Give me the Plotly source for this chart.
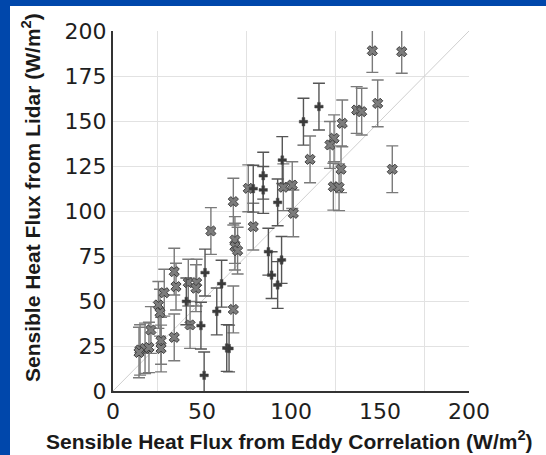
import plotly.graph_objects as go

# ---- data ----
x_cross_marks = [145.7, 162.2, 136.9, 139.7, 148.7, 128.8, 124.2, 121.9, 110.7, 128.1,
                 123.8, 127.0, 156.9, 101.3, 95.7, 100.7, 76.0, 67.6, 78.8, 68.5,
                 68.5, 70.0, 55.0, 34.4, 35.4, 28.8, 25.5, 26.4, 42.3, 47.0,
                 46.6, 67.6, 43.3, 21.3, 34.4, 27.0, 27.0, 15.2, 18.0, 20.2, 14.6]
y_cross_marks = [189.0, 188.5, 156.1, 155.2, 159.8, 148.7, 140.4, 136.7, 128.7, 123.2,
                 113.5, 113.2, 123.2, 98.7, 113.2, 114.4, 112.6, 105.2, 91.3, 83.9,
                 80.2, 78.0, 88.9, 66.3, 58.0, 54.6, 47.8, 43.5, 60.2, 60.2,
                 57.1, 45.3, 36.7, 33.9, 29.8, 27.9, 23.6, 22.8, 23.7, 24.2, 21.4]
err_cross_marks = [12, 12, 13, 13, 13, 13, 13, 13, 13, 13,
                   13, 13, 13, 13, 13, 13, 13, 13, 13, 13,
                   13, 13, 13, 13, 13, 13, 13, 13, 13, 13,
                   13, 13, 13, 13, 13, 13, 13, 14, 14, 14, 14]

x_plus_marks = [115.7, 107.0, 95.1, 92.5, 84.4, 84.4, 78.8, 87.3, 89.1, 94.7,
                92.5, 51.7, 61.0, 41.2, 58.3, 49.4, 63.9, 65.2, 51.2]
y_plus_marks = [158.0, 149.6, 128.3, 104.8, 119.6, 111.7, 112.4, 77.4, 64.4, 72.8,
                58.9, 65.8, 59.6, 49.8, 44.2, 36.3, 23.9, 23.6, 8.7]
err_plus_marks = [13, 13, 13, 13, 13, 13, 13, 13, 13, 13,
                  13, 13, 13, 13, 13, 13, 13, 13, 13]

one_to_one = [0, 200]

x_tick_vals = [0, 50, 100, 150, 200]
x_grid_vals = [25, 75, 125, 175, 200]
y_tick_vals = [0, 25, 50, 75, 100, 125, 150, 175, 200]

x_title = "Sensible Heat Flux from Eddy Correlation (W/m<sup>2</sup>)"
y_title = "Sensible Heat Flux from Lidar (W/m<sup>2</sup>)"

# ---- figure ----
W, H = 546, 455
ML, MR, MT, MB = 113, 77, 31, 64
PW, PH = W - ML - MR, H - MT - MB

def px_x(p):
    return (p - ML) / PW

def px_y(p):
    return (H - MB - p) / PH

fig = go.Figure()

fig.add_trace(go.Scatter(
    x=one_to_one, y=one_to_one, mode="lines",
    line=dict(color="#cfcfcf", width=1), hoverinfo="skip", showlegend=False))

fig.add_trace(go.Scatter(
    x=x_cross_marks, y=y_cross_marks, mode="markers",
    marker=dict(symbol="x", size=9, color="#7c7c7c",
                line=dict(color="#3e3e3e", width=1)),
    error_y=dict(type="data", array=err_cross_marks, visible=True,
                 color="#7a7a7a", thickness=1.4, width=6),
    showlegend=False))

fig.add_trace(go.Scatter(
    x=x_plus_marks, y=y_plus_marks, mode="markers",
    marker=dict(symbol="cross", size=7, color="#3a3a3a",
                line=dict(color="#4a4a4a", width=0.5)),
    error_y=dict(type="data", array=err_plus_marks, visible=True,
                 color="#555555", thickness=1.4, width=6),
    showlegend=False))

tick_font = dict(family="DejaVu Sans", size=22, color="#1e1e1e")
title_font = dict(family="Liberation Sans", size=21, color="#1a1a1a")

fig.update_layout(
    template="none",
    width=W, height=H,
    margin=dict(l=ML, r=MR, t=MT, b=MB, pad=0),
    paper_bgcolor="white",
    plot_bgcolor="white",
    xaxis=dict(
        range=[0, 200], tickvals=x_tick_vals, ticktext=[str(v) for v in x_tick_vals],
        showgrid=False, zeroline=False, ticks="",
        showline=True, linecolor="#333333", linewidth=2,
        tickfont=tick_font, automargin=False,
        minor=dict(tickvals=x_grid_vals, showgrid=True, gridcolor="#e2e2e2",
                   gridwidth=1, ticks=""),
    ),
    yaxis=dict(
        range=[0, 200], tickvals=y_tick_vals, ticktext=[str(v) for v in y_tick_vals],
        showgrid=True, gridcolor="#e2e2e2", gridwidth=1,
        zeroline=False, ticks="",
        showline=True, linecolor="#333333", linewidth=2,
        tickfont=tick_font, automargin=False,
    ),
    annotations=[
        dict(text="<b>" + x_title + "</b>", xref="paper", yref="paper",
             x=px_x(289), y=px_y(440), xanchor="center", yanchor="middle",
             showarrow=False, font=title_font),
        dict(text="<b>" + y_title + "</b>", xref="paper", yref="paper",
             x=px_x(31), y=px_y(198), xanchor="center", yanchor="middle",
             textangle=-90, showarrow=False, font=title_font),
    ],
    shapes=[
        dict(type="rect", xref="paper", yref="paper", layer="above",
             x0=px_x(0), x1=px_x(10), y0=px_y(H), y1=px_y(0),
             fillcolor="#0047ab", line=dict(width=0)),
        dict(type="rect", xref="paper", yref="paper", layer="above",
             x0=px_x(0), x1=px_x(W), y0=px_y(6), y1=px_y(0),
             fillcolor="#0047ab", line=dict(width=0)),
    ],
)

fig.write_html("out.html")
